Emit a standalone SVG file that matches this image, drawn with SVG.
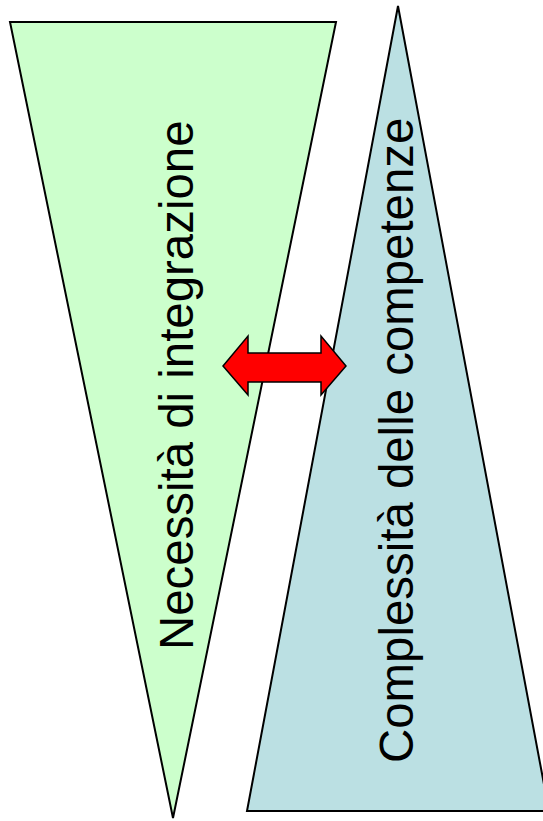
<svg xmlns="http://www.w3.org/2000/svg" width="543" height="821" viewBox="0 0 543 821">
<style>
.tri{stroke:#000;stroke-width:2;stroke-linejoin:miter}
.lbl{font-family:"Liberation Sans",Arial,sans-serif;font-size:47.4px;fill:#000}
.arr{fill:#FF0000;stroke:#000;stroke-width:1.5;stroke-linejoin:miter}
</style>
<rect width="543" height="821" fill="#fff"/>
<g id="necessita">
<polygon class="tri" points="10,22 336,22 173,818" fill="#CCFFCC"/>
<text class="lbl" transform="translate(193,650) rotate(-90)">Necessità di integrazione</text>
</g>
<g id="complessita">
<polygon class="tri" points="398,6 549,811 247,811" fill="#BBE0E3"/>
<text class="lbl" transform="translate(413,763) rotate(-90)">Complessità delle competenze</text>
</g>
<g id="connectors">
<polygon class="arr" points="223,366 248,336 248,353 321,353 321,336 346,366 321,395 321,382 248,382 248,395"/>
</g>
</svg>
